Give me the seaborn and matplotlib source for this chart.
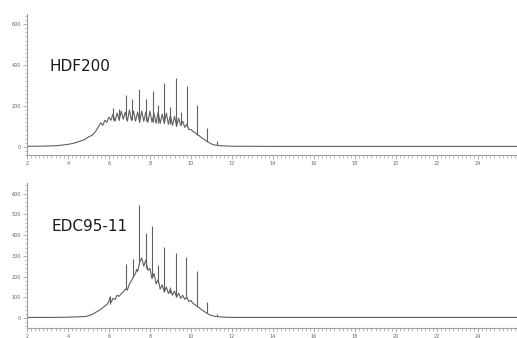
import matplotlib
matplotlib.use('Agg')
import matplotlib.pyplot as plt
import seaborn as sns
from matplotlib.ticker import MultipleLocator

# Top trace (HDF200): smooth envelope of the hump
top_env_x = [2.0, 2.5, 3.0, 3.5, 4.0, 4.3, 4.6, 4.8, 5.0, 5.2, 5.35, 5.5, 5.6, 5.7, 5.8, 5.9,
             6.0, 6.1, 6.2, 6.3, 6.4, 6.5, 6.6, 6.7, 6.8, 6.9, 7.0, 7.1, 7.2, 7.3, 7.4, 7.5,
             7.6, 7.7, 7.8, 7.9, 8.0, 8.1, 8.2, 8.3, 8.4, 8.5, 8.6, 8.7, 8.8, 8.9, 9.0, 9.1,
             9.2, 9.3, 9.4, 9.5, 9.6, 9.7, 9.8, 9.9, 10.0, 10.1, 10.2, 10.3, 10.4, 10.5, 10.6,
             10.7, 10.8, 10.9, 11.0, 11.2, 11.5, 12.0, 14.0, 18.0, 22.0, 25.9]
top_env_y = [3, 3, 4, 6, 12, 18, 28, 35, 48, 58, 75, 100, 118, 105, 130, 120,
             145, 130, 160, 125, 165, 130, 175, 135, 170, 125, 180, 130, 175, 125, 170, 120,
             175, 125, 170, 120, 175, 120, 165, 115, 170, 115, 160, 115, 165, 110, 155, 105,
             150, 100, 140, 105, 125, 95, 110, 85, 85, 75, 70, 60, 55, 45, 40,
             32, 25, 20, 14, 8, 5, 3, 2, 2, 2, 2]
# top trace: sharp peaks (position, foot, apex)
top_peak_x = [6.18, 6.5, 6.83, 7.15, 7.48, 7.8, 8.13, 8.4, 8.7, 8.98, 9.25, 9.5, 9.79, 10.31, 10.77, 11.25]
top_peak_base = [130, 130, 135, 130, 120, 125, 120, 115, 115, 110, 100, 105, 95, 60, 28, 8]
top_peak_top = [190, 185, 254, 234, 283, 234, 275, 205, 313, 195, 336, 170, 298, 205, 92, 30]

# Bottom trace (EDC95-11)
bot_env_x = [2.0, 3.0, 4.0, 4.5, 4.9, 5.2, 5.4, 5.6, 5.8, 5.9, 6.0, 6.05, 6.1, 6.2, 6.3, 6.4,
             6.5, 6.6, 6.7, 6.8, 6.9, 7.0, 7.1, 7.2, 7.3, 7.35, 7.4, 7.5, 7.6, 7.7, 7.8, 7.9,
             8.0, 8.1, 8.2, 8.3, 8.4, 8.5, 8.6, 8.7, 8.8, 8.9, 9.0, 9.1, 9.2, 9.3, 9.4, 9.5,
             9.6, 9.7, 9.8, 9.9, 10.0, 10.1, 10.2, 10.3, 10.4, 10.5, 10.6, 10.7, 10.8, 10.9,
             11.0, 11.2, 11.5, 12.0, 16.0, 20.0, 25.9]
bot_env_y = [3, 3, 4, 6, 8, 18, 30, 42, 58, 65, 80, 100, 75, 95, 90, 110,
             105, 118, 125, 140, 135, 165, 180, 200, 215, 235, 225, 270, 290, 250, 280, 230,
             240, 190, 215, 165, 185, 140, 160, 125, 150, 118, 140, 110, 130, 100, 120, 95,
             110, 90, 100, 80, 85, 70, 65, 55, 50, 42, 35, 28, 22, 16,
             12, 8, 5, 3, 3, 3, 3]
bot_peak_x = [6.05, 6.83, 7.19, 7.48, 7.79, 8.11, 8.37, 8.68, 8.98, 9.25, 9.76, 10.28, 10.77, 11.25]
bot_peak_base = [70, 140, 200, 260, 240, 200, 170, 130, 120, 105, 95, 60, 25, 8]
bot_peak_top = [106, 261, 283, 546, 412, 446, 256, 341, 150, 312, 296, 227, 79, 20]

x_ticks = [2, 4, 6, 8, 10, 12, 14, 16, 18, 20, 22, 24]
top_yticks = [0, 200, 400, 600]
bot_yticks = [0, 100, 200, 300, 400, 500, 600]

sns.set_theme(style="white")
plt.rcParams['font.family'] = ['DejaVu Sans']

line_col = '#606060'
axis_col = '#a0a0a0'

fig = plt.figure(figsize=(5.17, 3.38), dpi=100)
ax1 = fig.add_axes([0.052, 0.5414, 0.948, 0.4172])
ax2 = fig.add_axes([0.052, 0.0296, 0.948, 0.4290])

panels = [
    (ax1, top_env_x, top_env_y, top_peak_x, top_peak_base, top_peak_top, top_yticks, (-40, 650), 'HDF200', (0.047, 0.63)),
    (ax2, bot_env_x, bot_env_y, bot_peak_x, bot_peak_base, bot_peak_top, bot_yticks, (-48, 652), 'EDC95-11', (0.051, 0.70)),
]

for ax, ex, ey, px, pb, pt, yt, ylim, name, pos in panels:
    sns.lineplot(x=ex, y=ey, ax=ax, color=line_col, linewidth=0.8, sort=False)
    ax.vlines(px, pb, pt, color=line_col, linewidth=0.8)
    ax.set_xlim(2, 25.9)
    ax.set_ylim(*ylim)
    ax.set_xticks(x_ticks)
    ax.set_xticklabels([str(t) for t in x_ticks])
    ax.set_yticks(yt)
    ax.set_yticklabels([str(t) for t in yt])
    ax.xaxis.set_minor_locator(MultipleLocator(0.2))
    ax.yaxis.set_minor_locator(MultipleLocator(20))
    ax.tick_params(axis='both', which='both', bottom=True, left=True, direction='out', colors=axis_col)
    ax.tick_params(axis='both', which='major', labelsize=3.5, length=3, width=0.6, pad=1.5)
    ax.tick_params(axis='both', which='minor', length=1.8, width=0.5)
    ax.tick_params(axis='both', which='major', labelcolor='#666666')
    for s in ['top', 'right']:
        ax.spines[s].set_visible(False)
    for s in ['left', 'bottom']:
        ax.spines[s].set_color(axis_col)
        ax.spines[s].set_linewidth(0.8)
    ax.set_xlabel('')
    ax.set_ylabel('')
    ax.text(pos[0], pos[1], name, transform=ax.transAxes, fontsize=11,
            color='#1a1a1a', ha='left', va='center')

fig.savefig('out.png', dpi=100)
plt.close(fig)
